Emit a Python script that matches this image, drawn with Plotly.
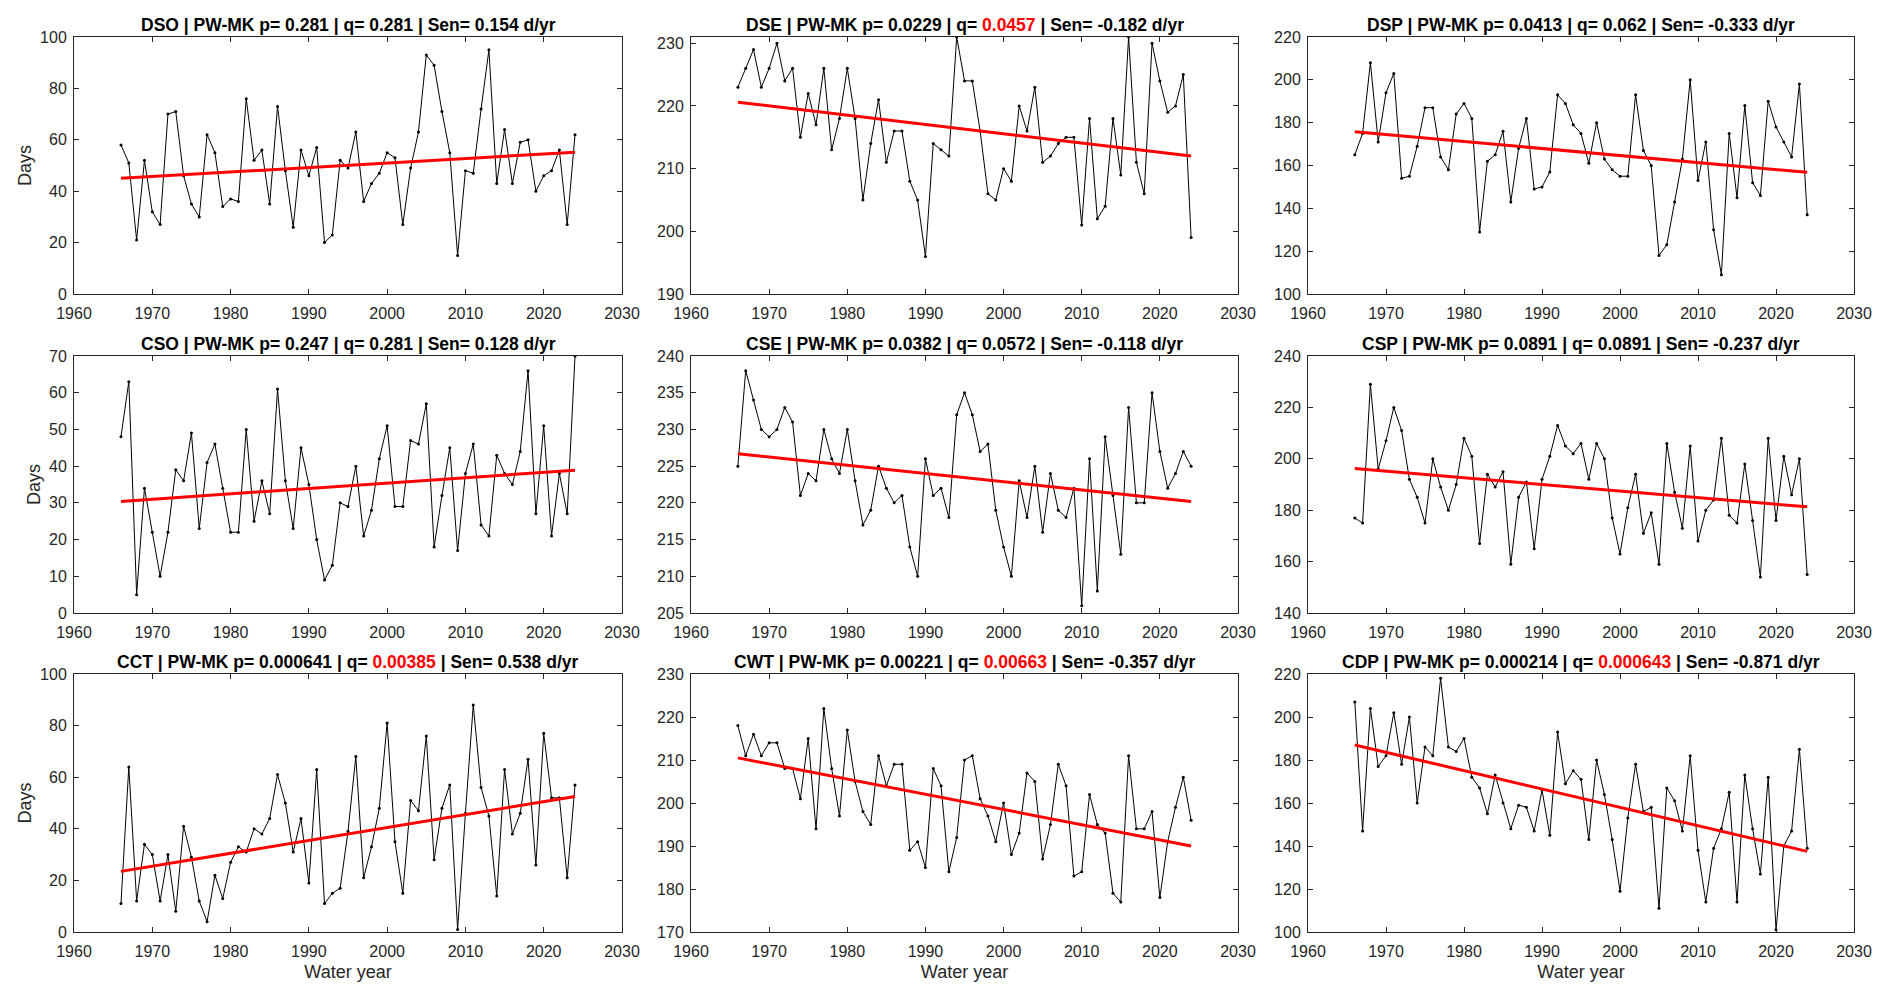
import plotly.graph_objects as go

years = list(range(1966, 2025))

# annual series (days)
dso = [58, 51, 21, 52, 32, 27, 70, 71, 46, 35, 30, 62, 55, 34, 37, 36, 76, 52, 56, 35,
       73, 48, 26, 56, 46, 57, 20, 23, 52, 49, 63, 36, 43, 47, 55, 53, 27, 49, 63, 93,
       89, 71, 55, 15, 48, 47, 72, 95, 43, 64, 43, 59, 60, 40, 46, 48, 56, 27, 62]
dse = [223, 226, 229, 223, 226, 230, 224, 226, 215, 222, 217, 226, 213, 218, 226, 218, 205, 214, 221, 211,
       216, 216, 208, 205, 196, 214, 213, 212, 231, 224, 224, 216, 206, 205, 210, 208, 220, 216, 223, 211,
       212, 214, 215, 215, 201, 218, 202, 204, 218, 209, 231, 211, 206, 230, 224, 219, 220, 225, 199]
dsp = [165, 175, 208, 171, 194, 203, 154, 155, 169, 187, 187, 164, 158, 184, 189, 182, 129, 162, 165, 176,
       143, 168, 182, 149, 150, 157, 193, 189, 179, 175, 161, 180, 163, 158, 155, 155, 193, 167, 160, 118,
       123, 143, 163, 200, 153, 171, 130, 109, 175, 145, 188, 152, 146, 190, 178, 171, 164, 198, 137]
cso = [48, 63, 5, 34, 22, 10, 22, 39, 36, 49, 23, 41, 46, 34, 22, 22, 50, 25, 36, 27,
       61, 36, 23, 45, 35, 20, 9, 13, 30, 29, 40, 21, 28, 42, 51, 29, 29, 47, 46, 57,
       18, 32, 45, 17, 38, 46, 24, 21, 43, 38, 35, 44, 66, 27, 51, 21, 38, 27, 70]
cse = [225, 238, 234, 230, 229, 230, 233, 231, 221, 224, 223, 230, 226, 224, 230, 223, 217, 219, 225, 222,
       220, 221, 214, 210, 226, 221, 222, 218, 232, 235, 232, 227, 228, 219, 214, 210, 223, 218, 225, 216,
       224, 219, 218, 222, 206, 226, 208, 229, 221, 213, 233, 220, 220, 235, 227, 222, 224, 227, 225]
csp = [177, 175, 229, 196, 207, 220, 211, 192, 185, 175, 200, 189, 180, 190, 208, 201, 167, 194, 189, 195,
       159, 185, 191, 165, 192, 201, 213, 205, 202, 206, 192, 206, 200, 177, 163, 181, 194, 171, 179, 159,
       206, 187, 173, 205, 168, 180, 184, 208, 178, 175, 198, 176, 154, 208, 176, 201, 186, 200, 155]
cct = [11, 64, 12, 34, 30, 12, 30, 8, 41, 29, 12, 4, 22, 13, 27, 33, 31, 40, 38, 44,
       61, 50, 31, 44, 19, 63, 11, 15, 17, 39, 68, 21, 33, 48, 81, 35, 15, 51, 47, 76,
       28, 48, 57, 1, 46, 88, 56, 45, 14, 63, 38, 46, 67, 26, 77, 52, 52, 21, 57]
cwt = [218, 211, 216, 211, 214, 214, 208, 208, 201, 215, 194, 222, 208, 197, 217, 205, 198, 195, 211, 204,
       209, 209, 189, 191, 185, 208, 204, 184, 192, 210, 211, 201, 197, 191, 200, 188, 193, 207, 205, 187,
       195, 209, 204, 183, 184, 202, 195, 193, 179, 177, 211, 194, 194, 198, 178, 191, 199, 206, 196]
cdp = [207, 147, 204, 177, 182, 202, 178, 200, 160, 186, 182, 218, 186, 184, 190, 172, 167, 155, 173, 160,
       148, 159, 158, 147, 166, 145, 193, 169, 175, 171, 143, 180, 164, 143, 119, 153, 178, 156, 158, 111,
       167, 161, 147, 182, 138, 114, 139, 148, 165, 114, 173, 148, 127, 172, 101, 140, 147, 185, 139]

series = [dso, dse, dsp, cso, cse, csp, cct, cwt, cdp]
names = ["DSO", "DSE", "DSP", "CSO", "CSE", "CSP", "CCT", "CWT", "CDP"]
p_vals = ["0.281", "0.0229", "0.0413", "0.247", "0.0382", "0.0891", "0.000641", "0.00221", "0.000214"]
q_vals = ["0.281", "0.0457", "0.062", "0.281", "0.0572", "0.0891", "0.00385", "0.00663", "0.000643"]
sen_vals = ["0.154", "-0.182", "-0.333", "0.128", "-0.118", "-0.237", "0.538", "-0.357", "-0.871"]

# Sen trend line, value at first and last year
trend_start = [45.0, 220.6, 175.8, 30.4, 226.7, 196.2, 23.5, 210.5, 187.0]
trend_end = [55.2, 212.0, 156.8, 38.9, 220.2, 181.3, 52.5, 190.0, 137.5]

y_ranges = [(0, 100), (190, 231), (100, 220), (0, 70), (205, 240), (140, 240),
            (0, 100), (170, 230), (100, 220)]
y_steps = [20, 10, 20, 10, 5, 20, 20, 10, 20]

# panel boxes in page pixels (the page body adds an 8px offset)
W, H, OFF = 1876, 985, 8
col_px = [(74, 622), (691, 1238), (1308, 1854)]
row_px = [(37, 294), (356, 613), (674, 932)]
col_x = [((a - OFF) / W, (b - OFF) / W) for a, b in col_px]
row_y = [(1 - (b - OFF) / H, 1 - (a - OFF) / H) for a, b in row_px]

axis_col = "#262626"
font_fam = "Liberation Sans, Arial, Helvetica, sans-serif"

fig = go.Figure()
annotations = []

for i in range(9):
    r, c = divmod(i, 3)
    n = i + 1
    xa = "x" if n == 1 else f"x{n}"
    ya = "y" if n == 1 else f"y{n}"

    fig.add_trace(go.Scatter(
        x=years, y=series[i], mode="lines+markers",
        line=dict(color="black", width=1),
        marker=dict(color="black", size=3),
        xaxis=xa, yaxis=ya, showlegend=False))
    fig.add_trace(go.Scatter(
        x=[years[0], years[-1]], y=[trend_start[i], trend_end[i]], mode="lines",
        line=dict(color="#ff0000", width=3),
        xaxis=xa, yaxis=ya, showlegend=False))

    common = dict(showline=True, linecolor=axis_col, linewidth=1, mirror="ticks",
                  ticks="inside", ticklen=5, tickcolor=axis_col, showgrid=False,
                  zeroline=False, automargin=False,
                  tickfont=dict(size=16, color=axis_col, family=font_fam))
    xkey = "xaxis" if n == 1 else f"xaxis{n}"
    ykey = "yaxis" if n == 1 else f"yaxis{n}"
    xdict = dict(common, domain=list(col_x[c]), anchor=ya, range=[1960, 2030],
                 tick0=1960, dtick=10, ticklabelstandoff=5)
    ydict = dict(common, domain=list(row_y[r]), anchor=xa, range=list(y_ranges[i]),
                 tick0=y_ranges[i][0], dtick=y_steps[i], ticklabelstandoff=3)
    if r == 2:
        xdict["title"] = dict(text="Water year", font=dict(size=18, color=axis_col, family=font_fam),
                              standoff=6)
    if c == 0:
        ydict["title"] = dict(text="Days", font=dict(size=18, color=axis_col, family=font_fam),
                              standoff=3)
    fig.update_layout({xkey: xdict, ykey: ydict})

    q_txt = q_vals[i]
    if float(q_txt) < 0.05:
        q_txt = f"<span style='color:#ff0000'>{q_txt}</span>"
    title = f"<b>{names[i]} | PW-MK p= {p_vals[i]} | q= {q_txt} | Sen= {sen_vals[i]} d/yr</b>"
    annotations.append(dict(
        text=title, xref="paper", yref="paper",
        x=(col_x[c][0] + col_x[c][1]) / 2, y=row_y[r][1],
        xanchor="center", yanchor="bottom", yshift=0, showarrow=False,
        font=dict(size=17.5, color="black", family=font_fam)))

fig.update_layout(
    width=W, height=H,
    margin=dict(l=0, r=0, t=0, b=0),
    paper_bgcolor="white", plot_bgcolor="white",
    annotations=annotations,
    font=dict(family=font_fam),
)

fig.write_html("out.html")
